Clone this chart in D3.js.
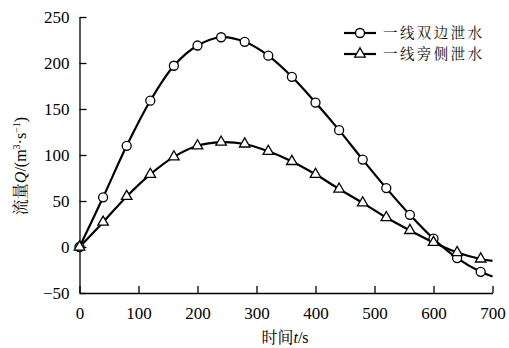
<!DOCTYPE html>
<html><head><meta charset="utf-8">
<script src="https://cdn.jsdelivr.net/npm/d3@7/dist/d3.min.js"></script>
<style>body{margin:0;background:#fff}svg{display:block}</style>
</head><body><svg id="c" width="509" height="348"></svg>
<script>
const times = [0,40,80,120,160,200,240,280,320,360,400,440,480,520,560,600,640,680,700];
const seriesNames = ["一线双边泄水","一线旁侧泄水"];
const bilateral = [0,54,110,159,197,219,228,223,208,185,157,127,95,64,35,9,-12,-27,-32];
const lateral   = [0,27,55,79,98,110,114,112,104,93,79,63,48,32,18,5,-6,-13,-15];
const xTicks = [0,100,200,300,400,500,600,700];
const yTicks = [-50,0,50,100,150,200,250];

const svg = d3.select("#c");
const x = d3.scaleLinear().domain([0,700]).range([79.5,492.5]);
const y = d3.scaleLinear().domain([-50,250]).range([293,17]);
const serif = "'Liberation Serif','Times New Roman',serif";
const cjk = "'Noto Serif CJK SC','Noto Sans CJK SC',serif";

// axes
const gx = svg.append("g").attr("transform",`translate(0,${y(-50)})`)
  .call(d3.axisBottom(x).tickValues(xTicks).tickSizeInner(-7).tickSizeOuter(0).tickPadding(14));
const gy = svg.append("g").attr("transform",`translate(${x(0)},0)`)
  .call(d3.axisLeft(y).tickValues(yTicks).tickSizeInner(-7).tickSizeOuter(0).tickPadding(10)
  .tickFormat(d => d < 0 ? "\u2212" + Math.abs(d) : d));
[gx,gy].forEach(g=>{
  g.attr("font-family",serif).attr("font-size",17);
  g.selectAll("path,line").attr("stroke","#000").attr("stroke-width",1.3);
  g.selectAll("text").style("font-family",serif).style("font-size","17px").attr("fill","#000");
});

const line = d3.line().x((d,i)=>x(times[i])).y(d=>y(d)).curve(d3.curveCatmullRom.alpha(0.5));
const series = [bilateral, lateral];
series.forEach(s=>{
  svg.append("path").datum(s).attr("d",line).attr("fill","none")
    .attr("stroke","#000").attr("stroke-width",2.2);
});
const tri = d3.symbol().type(d3.symbolTriangle).size(48);
// markers
svg.append("g").selectAll("circle")
  .data(bilateral.map((v,i)=>[times[i],v]).filter(d=>d[0]%40===0))
  .join("circle").attr("cx",d=>x(d[0])).attr("cy",d=>y(d[1])).attr("r",4.5)
  .attr("fill","#fff").attr("stroke","#000").attr("stroke-width",1.3);
svg.append("g").selectAll("path")
  .data(lateral.map((v,i)=>[times[i],v]).filter(d=>d[0]%40===0))
  .join("path").attr("d",tri).attr("transform",d=>`translate(${x(d[0])},${y(d[1])})`)
  .attr("fill","#fff").attr("stroke","#000").attr("stroke-width",1.3);

// legend
const lg = svg.append("g");
const rows = [33, 54];
rows.forEach((ry,i)=>{
  lg.append("line").attr("x1",344).attr("x2",376).attr("y1",ry).attr("y2",ry)
    .attr("stroke","#000").attr("stroke-width",2.2);
  if(i===0) lg.append("circle").attr("cx",360).attr("cy",ry).attr("r",4.5)
    .attr("fill","#fff").attr("stroke","#000").attr("stroke-width",1.3);
  else lg.append("path").attr("d",tri).attr("transform",`translate(360,${ry})`)
    .attr("fill","#fff").attr("stroke","#000").attr("stroke-width",1.3);
  lg.append("text").attr("x",383).attr("y",ry).attr("dy","0.36em")
    .style("font-family",cjk).style("font-size","14.5px")
    .style("letter-spacing","2.4px").attr("fill","#111").text(seriesNames[i]);
});

// axis titles
const xt = svg.append("text").attr("x",285).attr("y",337).attr("dy","0.35em")
  .attr("text-anchor","middle").style("font-size","16px").attr("fill","#000");
xt.append("tspan").style("font-family",cjk).text("时间");
xt.append("tspan").style("font-family",serif).style("font-style","italic").text("t");
xt.append("tspan").style("font-family",serif).text("/s");

const yt = svg.append("text").attr("transform","translate(20,166) rotate(-90)").attr("dy","0.35em")
  .attr("text-anchor","middle").style("font-size","16px").attr("fill","#000");
yt.append("tspan").style("font-family",cjk).text("流量");
yt.append("tspan").style("font-family",serif).style("font-style","italic").text("Q");
yt.append("tspan").style("font-family",serif).text("/(m");
yt.append("tspan").style("font-family",serif).style("font-size","10px").attr("dy","-6").text("3");
yt.append("tspan").style("font-family",serif).attr("dy","6").text("·s");
yt.append("tspan").style("font-family",serif).style("font-size","10px").attr("dy","-6").text("−1");
yt.append("tspan").style("font-family",serif).attr("dy","6").text(")");
</script></body></html>
